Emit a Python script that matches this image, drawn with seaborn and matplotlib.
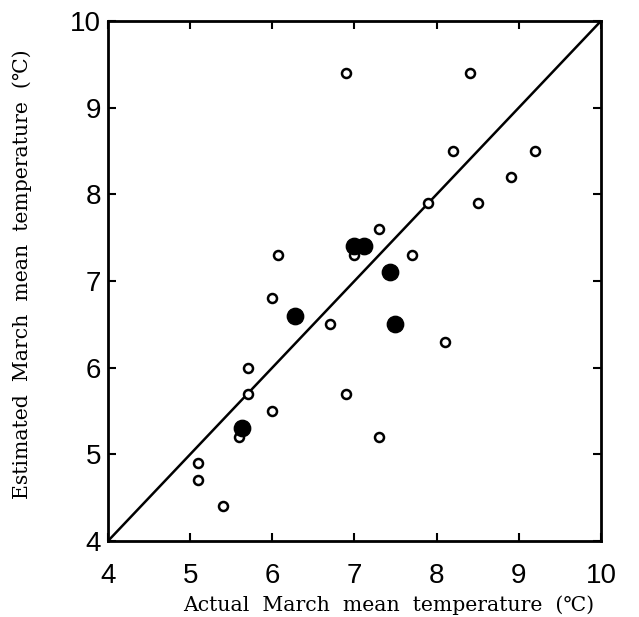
import matplotlib
matplotlib.use("Agg")
import matplotlib.pyplot as plt
import seaborn as sns
import pandas as pd

# data
open_x = [6.9, 8.4, 8.2, 9.2, 8.9, 7.9, 8.5, 7.3, 7.0, 7.7, 6.07, 6.0, 6.7, 8.1,
          5.7, 5.7, 6.9, 6.0, 5.6, 7.3, 5.1, 5.1, 5.4]
open_y = [9.4, 9.4, 8.5, 8.5, 8.2, 7.9, 7.9, 7.6, 7.3, 7.3, 7.3, 6.8, 6.5, 6.3,
          6.0, 5.7, 5.7, 5.5, 5.2, 5.2, 4.9, 4.7, 4.4]
filled_x = [7.0, 7.12, 7.43, 6.27, 7.49, 5.63]
filled_y = [7.4, 7.4, 7.1, 6.6, 6.5, 5.3]
line_x = [4, 10]
line_y = [4, 10]
ticks = [4, 5, 6, 7, 8, 9, 10]

sns.set_style("ticks", {"axes.edgecolor": "black", "xtick.color": "black",
                        "ytick.color": "black", "text.color": "black",
                        "axes.labelcolor": "black"})
plt.rcParams['font.family'] = ['Liberation Sans', 'DejaVu Sans']

fig = plt.figure(figsize=(6.39, 6.17), dpi=100)
ax = fig.add_axes([0.169, 0.1232, 0.7715, 0.8428])

df_open = pd.DataFrame({"x": open_x, "y": open_y})
df_fill = pd.DataFrame({"x": filled_x, "y": filled_y})

sns.lineplot(x=line_x, y=line_y, ax=ax, color="black", linewidth=1.8)
sns.scatterplot(data=df_open, x="x", y="y", ax=ax, s=42, facecolor="white",
                edgecolor="black", linewidth=1.8, zorder=3)
sns.scatterplot(data=df_fill, x="x", y="y", ax=ax, s=140, color="black",
                edgecolor="black", zorder=4)

ax.set_xlim(4, 10)
ax.set_ylim(4, 10)
ax.set_xticks(ticks)
ax.set_yticks(ticks)
ax.tick_params(direction="in", length=6, width=1.5, labelsize=20,
               top=True, right=True)
ax.tick_params(axis="x", pad=16)
ax.tick_params(axis="y", pad=5)
for s in ax.spines.values():
    s.set_linewidth(2)
    s.set_visible(True)

lab_font = dict(family=["DejaVu Serif", "DejaVu Sans"], size=14.7)
ax.set_xlabel("Actual  March  mean  temperature  (℃)", **lab_font)
ax.set_ylabel("Estimated  March  mean  temperature  (℃)", **lab_font)
ax.xaxis.set_label_coords(0.57, -0.104)
ax.yaxis.set_label_coords(-0.154, 0.513)

fig.savefig("out.png", dpi=100)
